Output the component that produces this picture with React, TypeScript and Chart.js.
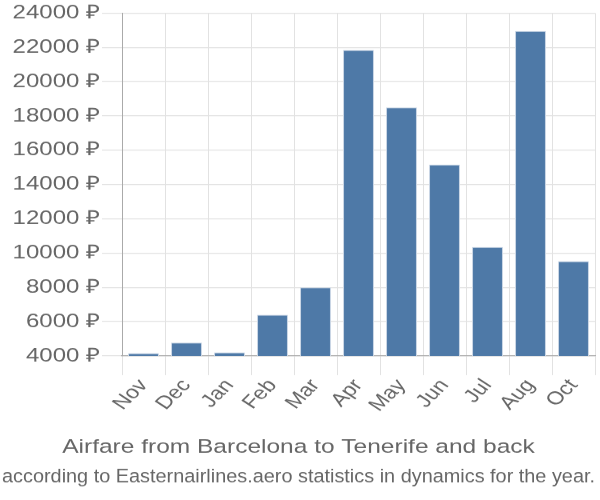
import React, { useEffect, useRef } from 'react';
import { Chart, registerables } from 'chart.js';
Chart.register(...registerables);

const months = ['Nov', 'Dec', 'Jan', 'Feb', 'Mar', 'Apr', 'May', 'Jun', 'Jul', 'Aug', 'Oct'];
const prices = [4160, 4780, 4200, 6400, 8000, 21850, 18500, 15160, 10350, 22960, 9530];
const yMin = 4000;
const yMax = 24000;
const yStep = 2000;
const currency = '₽';
const titleLines = [
  'Airfare from Barcelona to Tenerife and back',
  'according to Easternairlines.aero statistics in dynamics for the year.',
];

export default function App() {
  const ref = useRef<HTMLCanvasElement>(null);
  useEffect(() => {
    const font = "'Liberation Sans', Arial, sans-serif";
    const chart = new Chart(ref.current!, {
      type: 'bar',
      data: {
        labels: months,
        datasets: [
          {
            data: prices,
            backgroundColor: '#4e79a7',
            borderColor: '#c9d6e5',
            borderWidth: 1,
          },
        ],
      },
      options: {
        responsive: false,
        animation: false,
        layout: { padding: { left: 2, right: 5, top: 7.5, bottom: 0 } },
        plugins: {
          legend: { display: false },
          tooltip: { enabled: false },
          title: {
            display: true,
            position: 'bottom',
            text: titleLines,
            color: '#666',
            font: { family: font, size: 24.5, weight: 'normal', lineHeight: 1.52 },
            padding: { top: 20.5, bottom: 10 },
          },
        },
        scales: {
          x: {
            grid: { color: '#e2e2e2', lineWidth: 1, tickLength: 24, offset: true },
            border: { color: '#aaa', width: 1.25 },
            ticks: {
              color: '#666',
              font: { family: font, size: 23 },
              minRotation: 51,
              maxRotation: 51,
              padding: 0,
              autoSkip: false,
            },
          },
          y: {
            min: yMin,
            max: yMax,
            afterFit: (scale: any) => {
              scale.width = 120;
            },
            grid: { color: '#e2e2e2', lineWidth: 1.25, tickLength: 20 },
            border: { color: '#aaa', width: 1 },
            ticks: {
              stepSize: yStep,
              color: '#666',
              font: { family: font, size: 24 },
              padding: 2,
              callback: (v: any) => v + ' ' + currency,
            },
          },
        },
      },
    });
    return () => chart.destroy();
  }, []);
  return (
    <div style={{ position: 'fixed', left: 0, top: 0, width: 600, height: 500 }}>
      <canvas
        ref={ref}
        width={600}
        height={625}
        style={{ width: '600px', height: '500px', display: 'block' }}
      />
    </div>
  );
}
